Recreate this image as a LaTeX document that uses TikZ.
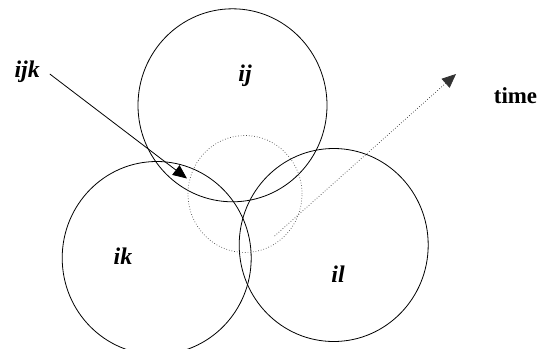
\documentclass[tikz,border=0pt]{standalone}
\usepackage{fontspec}
\setmainfont{Liberation Serif}
\usetikzlibrary{shapes.geometric,arrows.meta}
\tikzset{
  zone/.style = {draw, ellipse, line width=0.8bp, minimum width=189bp, minimum height=193bp, inner sep=0pt},
  reach/.style = {draw=black!70, dotted, ellipse, line width=0.7bp, minimum width=114bp, minimum height=117bp, inner sep=0pt},
  tag/.style = {font=\fontsize{24}{28}\selectfont\bfseries\itshape, inner sep=0pt},
  tri/.style = {-{Triangle[length=14bp,width=12bp]}}
}
\begin{document}
\begin{tikzpicture}[x=1bp,y=1bp]

\useasboundingbox (0,0) rectangle (538,348);

\node[zone] (ij) at (232.5,242.7) {};
\node[zone] (ik) at (156.7,90) {};
\node[zone] (il) at (333.7,103) {};
\node[reach] (now) at (245,154) {};

\node[tag] (ijlab) at (245,272.5) {ij};
\node[tag] (iklab) at (123,92) {ik};
\node[tag] (illab) at (338,74) {il};
\node[tag, anchor=east] (ijklab) at (40,276) {ijk};
\node[font=\fontsize{23}{27}\selectfont\bfseries, inner sep=0pt] (timelab) at (515.5,252.5) {time};

\coordinate (ijkout) at (49.8,274);
\coordinate (hit) at (187,169.5);
\coordinate (t0) at (274.6,112);
\coordinate (t1) at (456,274);

\draw[tri, line width=0.8bp] (ijkout) -- (hit);
\draw[tri, dotted, line width=0.7bp, draw=black!80] (t0) -- (t1);

\end{tikzpicture}
\end{document}
